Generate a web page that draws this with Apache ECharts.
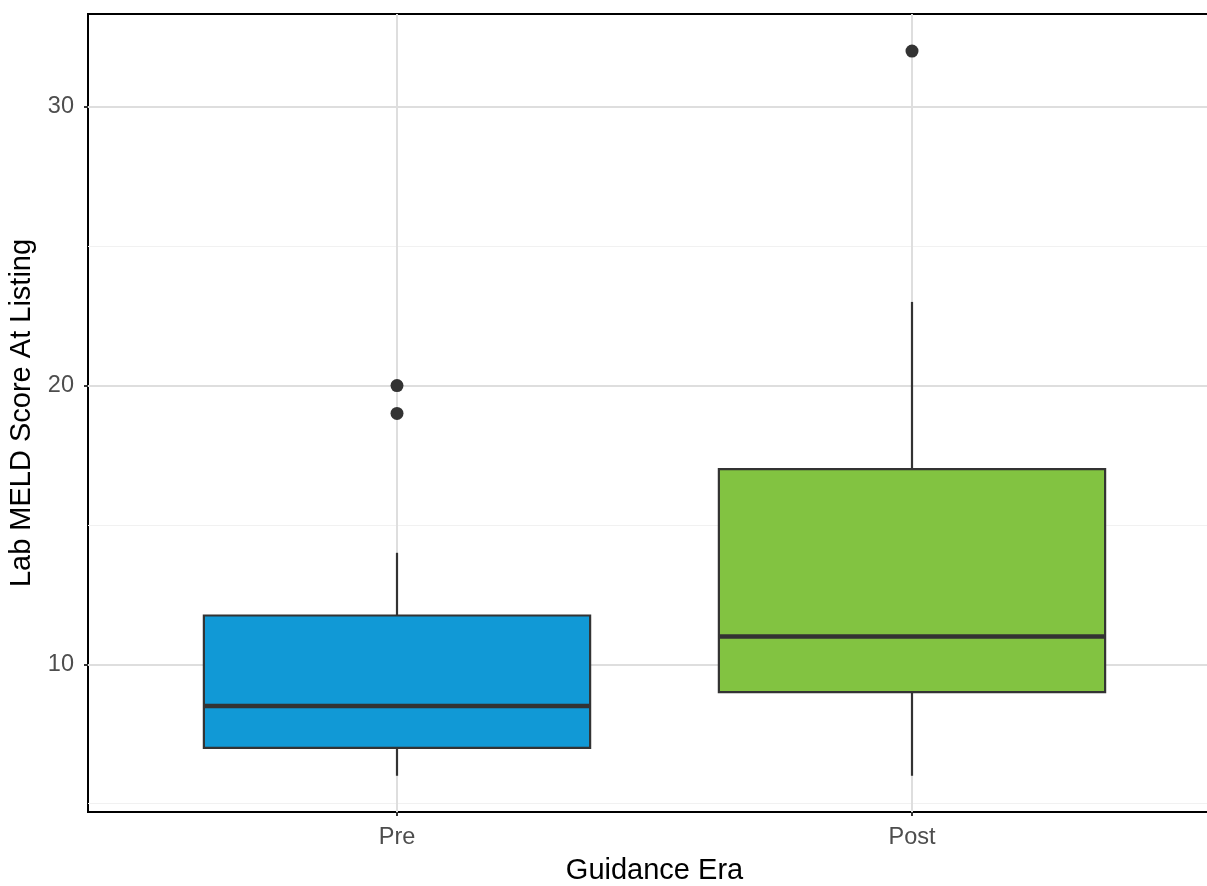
<!DOCTYPE html>
<html>
<head>
<meta charset="utf-8">
<script src="https://cdn.jsdelivr.net/npm/echarts@6/dist/echarts.min.js"></script>
<style>
html,body{margin:0;padding:0;background:#fff;}
#chart{width:1207px;height:886px;}
</style>
</head>
<body>
<div id="chart"></div>
<script>
const categories = ['Pre', 'Post'];
const lowerWhisker = [6, 6];
const q1 = [7, 9];
const median = [8.5, 11];
const q3 = [11.75, 17];
const upperWhisker = [14, 23];
const outlierCategory = [0, 0, 1];
const outlierValue = [19, 20, 32];
const boxColors = ['#1199d6', '#82c341'];
const yTicks = [10, 20, 30];
const yMinorTicks = [5, 15, 25];
const xPositions = [1, 2];

const FONT = 'Liberation Sans, Arial, Helvetica, sans-serif';

const boxData = categories.map((c, i) => ({
  value: [xPositions[i], lowerWhisker[i], q1[i], median[i], q3[i], upperWhisker[i]],
  itemStyle: { color: boxColors[i] }
}));
const outlierData = outlierValue.map((v, i) => [xPositions[outlierCategory[i]], v]);

const chart = echarts.init(document.getElementById('chart'), null, { renderer: 'canvas' });

const option = {
  animation: false,
  backgroundColor: '#ffffff',
  grid: {
    left: 88, top: 14, width: 1133, height: 798,
    outerBoundsMode: 'none',
    show: true, borderColor: '#000000', borderWidth: 2, backgroundColor: 'transparent',
    containLabel: false
  },
  xAxis: {
    type: 'value', min: 0.4, max: 2.6,
    axisLine: { show: false },
    axisTick: { show: true, customValues: xPositions, length: 4, lineStyle: { color: '#333333', width: 2 } },
    axisLabel: {
      customValues: xPositions,
      formatter: v => categories[xPositions.indexOf(v)] || '',
      color: '#4d4d4d', fontSize: 23.5, fontFamily: FONT, margin: 14
    },
    splitLine: { show: true, lineStyle: { color: '#dedede', width: 2 } },
    name: 'Guidance Era', nameLocation: 'middle', nameGap: 44,
    nameTextStyle: { color: '#000000', fontSize: 29, fontFamily: FONT }
  },
  yAxis: [{
    type: 'value', min: 4.7, max: 33.33,
    axisLine: { show: false },
    axisTick: { show: true, customValues: yTicks, length: 4, lineStyle: { color: '#333333', width: 2 } },
    axisLabel: { customValues: yTicks, color: '#4d4d4d', fontSize: 23.5, fontFamily: FONT, margin: 14 },
    splitLine: { show: true, lineStyle: { color: '#dedede', width: 2 } },
    name: 'Lab MELD Score At Listing', nameLocation: 'middle', nameGap: 52, nameRotate: 90,
    nameTextStyle: { color: '#000000', fontSize: 29, fontFamily: FONT }
  }, {
    type: 'value', min: 4.7, max: 33.33, position: 'left',
    axisLine: { show: false },
    axisTick: { show: false, customValues: yMinorTicks },
    axisLabel: { show: false, customValues: yMinorTicks },
    splitLine: { show: true, lineStyle: { color: '#f1f1f1', width: 1 } }
  }],
  series: [{
    type: 'custom',
    xAxisIndex: 0, yAxisIndex: 0,
    encode: { x: 0, y: [1, 2, 3, 4, 5] },
    data: boxData,
    z: 3,
    renderItem: function (params, api) {
      const x = api.value(0);
      const pLo = api.coord([x, api.value(1)]);
      const pQ1 = api.coord([x, api.value(2)]);
      const pMed = api.coord([x, api.value(3)]);
      const pQ3 = api.coord([x, api.value(4)]);
      const pHi = api.coord([x, api.value(5)]);
      const halfW = api.size([0.75, 0])[0] / 2;
      const fill = api.visual('color');
      const stroke = '#333333';
      return {
        type: 'group',
        children: [
          { type: 'line', shape: { x1: pQ3[0], y1: pQ3[1], x2: pHi[0], y2: pHi[1] }, style: { stroke: stroke, lineWidth: 2.2 } },
          { type: 'line', shape: { x1: pQ1[0], y1: pQ1[1], x2: pLo[0], y2: pLo[1] }, style: { stroke: stroke, lineWidth: 2.2 } },
          { type: 'rect', shape: { x: pQ3[0] - halfW, y: pQ3[1], width: halfW * 2, height: pQ1[1] - pQ3[1] },
            style: { fill: fill, stroke: stroke, lineWidth: 2.2 } },
          { type: 'line', shape: { x1: pMed[0] - halfW, y1: pMed[1], x2: pMed[0] + halfW, y2: pMed[1] },
            style: { stroke: stroke, lineWidth: 4.5 } }
        ]
      };
    }
  }, {
    type: 'scatter',
    xAxisIndex: 0, yAxisIndex: 0,
    data: outlierData,
    symbol: 'circle', symbolSize: 13,
    itemStyle: { color: '#333333', opacity: 1 },
    z: 4
  }]
};
chart.setOption(option);
</script>
</body>
</html>
